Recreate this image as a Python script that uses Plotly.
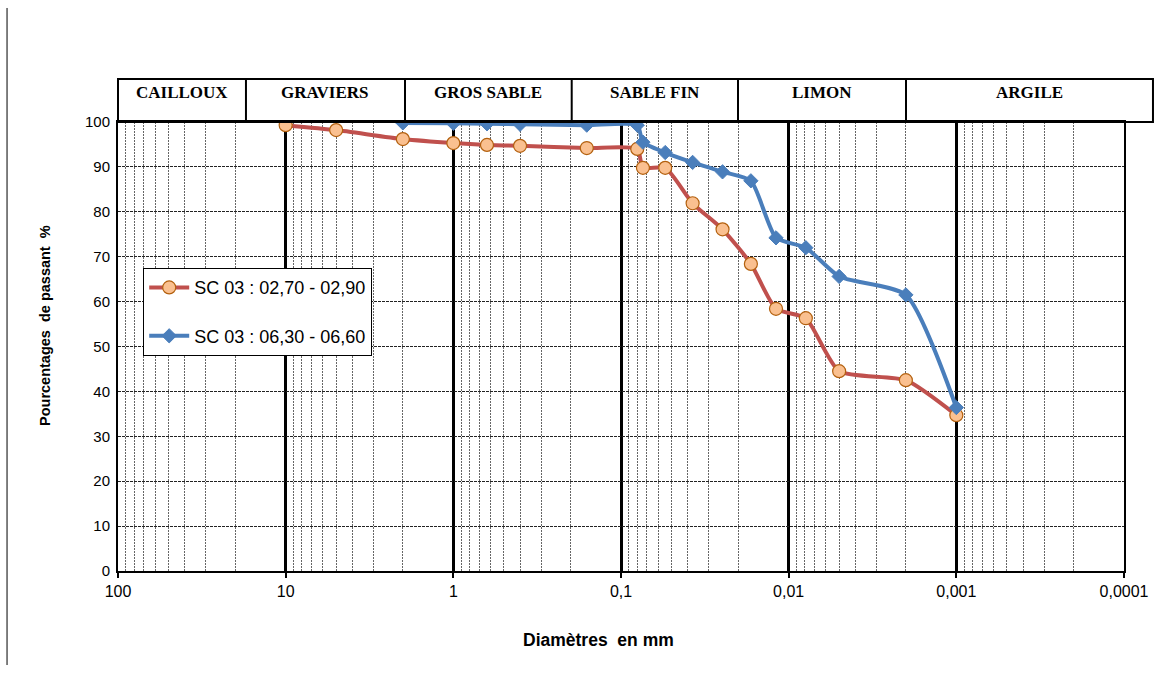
import plotly.graph_objects as go

# Sieve + sedimentometry results: grain diameter (mm) vs. percentage passing
diam_a = [10, 5, 2, 1, 0.63, 0.4, 0.16, 0.08, 0.074, 0.0545, 0.0374, 0.0248,
          0.0168, 0.0119, 0.0079, 0.005, 0.002, 0.001]
pass_a = [99.3, 98.2, 96.2, 95.3, 94.9, 94.7, 94.2, 94.0, 89.8, 89.8, 81.9,
          76.1, 68.4, 58.4, 56.3, 44.5, 42.5, 34.7]

diam_b = [2, 1, 0.63, 0.4, 0.16, 0.08, 0.074, 0.0545, 0.0374, 0.0248, 0.0168,
          0.0119, 0.0079, 0.005, 0.002, 0.001]
pass_b = [99.8, 99.7, 99.6, 99.5, 99.3, 99.3, 95.5, 93.2, 91.0, 88.9, 86.9,
          74.2, 72.0, 65.6, 61.5, 36.4]

name_a = "SC 03 : 02,70 - 02,90"
name_b = "SC 03 : 06,30 - 06,60"

# Soil classes shown in the header band (edges in paper fraction)
classes = ["CAILLOUX", "GRAVIERS", "GROS SABLE", "SABLE FIN", "LIMON", "ARGILE"]
class_edges = [0.0, 0.1272, 0.2853, 0.4510, 0.6163, 0.7833, 1.0288]

major_vals = [100, 10, 1, 0.1, 0.01, 0.001, 0.0001]
major_text = ["100", "10", "1", "0,1", "0,01", "0,001", "0,0001"]
minor_vals = [m * d for d in major_vals[1:] for m in range(2, 10)]

fig = go.Figure()

fig.add_trace(go.Scatter(
    x=diam_a, y=pass_a, name=name_a, mode="lines+markers",
    line=dict(color="#C0504D", width=4, shape="spline", smoothing=0.6),
    marker=dict(symbol="circle", size=13, color="#FAC090",
                line=dict(color="#B3600E", width=1.2)),
    legendgroup="a",
))
fig.add_trace(go.Scatter(
    x=diam_b, y=pass_b, name=name_b, mode="lines+markers",
    line=dict(color="#4A7EBB", width=4, shape="spline", smoothing=0.6),
    marker=dict(symbol="diamond", size=11, color="#4A7EBB",
                line=dict(color="#4A7EBB", width=1)),
    legendgroup="b",
))

shapes = []
# header band outline
band_top = 1.0958
shapes.append(dict(type="rect", xref="paper", yref="paper",
                   x0=class_edges[0], x1=class_edges[-1], y0=1.0, y1=band_top,
                   line=dict(color="black", width=2), fillcolor="rgba(0,0,0,0)"))
for e in class_edges[1:-1]:
    shapes.append(dict(type="line", xref="paper", yref="paper",
                       x0=e, x1=e, y0=1.0, y1=band_top,
                       line=dict(color="black", width=2)))
# left page rule
shapes.append(dict(type="line", xref="paper", yref="paper",
                   x0=-0.1103, x1=-0.1103, y0=-0.2094, y1=1.2539,
                   line=dict(color="black", width=1)))

annotations = []
for i, c in enumerate(classes):
    annotations.append(dict(
        text="<b>" + c + "</b>", xref="paper", yref="paper",
        x=(class_edges[i] + class_edges[i + 1]) / 2, y=1.0668,
        showarrow=False, xanchor="center", yanchor="middle",
        font=dict(family="Liberation Serif", size=17, color="black"),
    ))
annotations.append(dict(
    text="<b>Diamètres\u00a0 en mm</b>", xref="paper", yref="paper",
    x=(598 - 118) / 1006, y=(571 - 640) / 449, showarrow=False,
    xanchor="center", yanchor="middle",
    font=dict(family="Liberation Sans", size=17.5, color="black"),
))
annotations.append(dict(
    text="<b>Pourcentages\u00a0 de passant\u00a0 %</b>", xref="paper", yref="paper",
    x=(45 - 118) / 1006, y=(571 - 326) / 449, showarrow=False, textangle=-90,
    xanchor="center", yanchor="middle",
    font=dict(family="Liberation Sans", size=14.5, color="black"),
))

fig.update_layout(
    width=1174, height=678,
    margin=dict(l=118, r=50, t=122, b=107),
    paper_bgcolor="white", plot_bgcolor="white",
    font=dict(family="Liberation Sans", color="black"),
    shapes=shapes, annotations=annotations,
    legend=dict(
        x=(143 - 118) / 1006, y=(571 - 268) / 449, xanchor="left", yanchor="top",
        bgcolor="white", bordercolor="black", borderwidth=1.2,
        font=dict(family="Liberation Sans", size=18, color="black"),
        tracegroupgap=22, itemwidth=40,
    ),
    xaxis=dict(
        type="log", range=[2, -4],
        tickmode="array", tickvals=major_vals, ticktext=major_text,
        ticks="outside", ticklen=5, tickwidth=1.5, tickcolor="black",
        tickfont=dict(size=16, family="Liberation Sans"),
        showgrid=True, gridcolor="black", gridwidth=2.5,
        minor=dict(tickvals=minor_vals, showgrid=True, gridcolor="#666666",
                   gridwidth=1, griddash="2px,1px", ticks=""),
        showline=True, linecolor="black", linewidth=2, mirror=True,
        zeroline=False,
    ),
    yaxis=dict(
        range=[0, 100], tickmode="linear", tick0=0, dtick=10,
        tickfont=dict(size=15, family="Liberation Sans"),
        ticks="outside", ticklen=3, tickcolor="rgba(0,0,0,0)",
        showgrid=True, gridcolor="#222222", gridwidth=1, griddash="3px,1px",
        showline=True, linecolor="black", linewidth=2, mirror=True,
        zeroline=False,
    ),
)

fig.write_html("out.html")
